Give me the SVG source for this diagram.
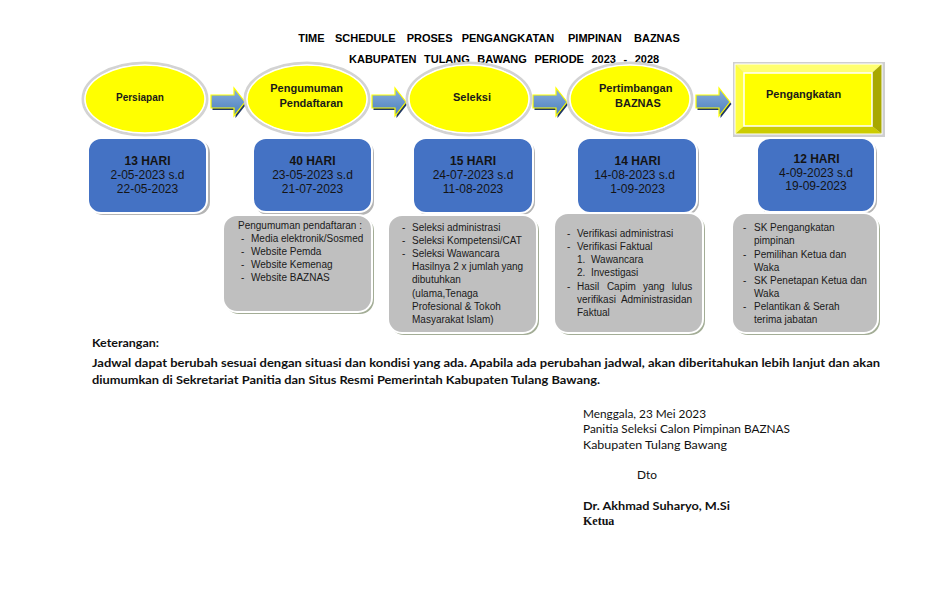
<svg xmlns="http://www.w3.org/2000/svg" width="936" height="612" viewBox="0 0 936 612">
<style>
  .title { font-family: "Liberation Sans", Arial, sans-serif; font-weight: bold; font-size: 11px; fill: #000; }
  .stage { font-family: "Liberation Sans", Arial, sans-serif; font-weight: bold; font-size: 11px; fill: #1a1a1a; }
  .dur { font-family: "Liberation Sans", Arial, sans-serif; font-size: 12px; fill: #141414; text-anchor: middle; }
  .durb { font-weight: bold; }
  .det { font-family: "Liberation Sans", Arial, sans-serif; font-size: 10px; fill: #1a1a1a; }
  .note { font-family: Lato, "Open Sans", sans-serif; font-size: 12px; fill: #111; }
  .noteb { font-weight: bold; }
  .ser { font-family: "Liberation Serif", "Times New Roman", serif; font-weight: bold; font-size: 12px; fill: #111; }
  .ellRing { fill: none; stroke: #d3d3d3; stroke-width: 3; }
  .ellFace { fill: #ffff00; stroke: #ffffff; stroke-width: 1.5; }
  .blueSh { fill: #b4b4b4; }
  .blue { fill: #4472c4; stroke: #ffffff; stroke-width: 2; }
  .greySh { fill: #a3ad96; }
  .grey { fill: #bfbfbf; stroke: #ffffff; stroke-width: 2; }
</style>
<defs>
  <linearGradient id="arrGrad" x1="0" y1="0" x2="0" y2="1">
    <stop offset="0" stop-color="#8ab0de"/>
    <stop offset="1" stop-color="#4a7ebb"/>
  </linearGradient>
  <polygon id="arrowShape" points="0,0 23,0 23,-7 34,7 23,21 23,13 0,13"/>
</defs>
<rect width="936" height="612" fill="#ffffff"/>

<g id="title">
  <text class="title" y="42"><tspan x="298.3">TIME</tspan><tspan x="335">SCHEDULE</tspan><tspan x="406.7">PROSES</tspan><tspan x="461.7">PENGANGKATAN</tspan><tspan x="568">PIMPINAN</tspan><tspan x="634">BAZNAS</tspan></text>
  <text class="title" x="349" y="63" word-spacing="4.5">KABUPATEN TULANG BAWANG PERIODE 2023 - 2028</text>
</g>

<g id="connectors">
  <g transform="translate(212.5,97)"><use href="#arrowShape" fill="#203864"/></g>
  <g transform="translate(211,95)"><use href="#arrowShape" fill="url(#arrGrad)" stroke="#ffff00" stroke-width="1.2"/></g>
  <g transform="translate(373.5,97)"><use href="#arrowShape" fill="#203864"/></g>
  <g transform="translate(372,95)"><use href="#arrowShape" fill="url(#arrGrad)" stroke="#ffff00" stroke-width="1.2"/></g>
  <g transform="translate(534.5,97)"><use href="#arrowShape" fill="#203864"/></g>
  <g transform="translate(533,95)"><use href="#arrowShape" fill="url(#arrGrad)" stroke="#ffff00" stroke-width="1.2"/></g>
  <g transform="translate(697.5,97)"><use href="#arrowShape" fill="#203864"/></g>
  <g transform="translate(696,95)"><use href="#arrowShape" fill="url(#arrGrad)" stroke="#ffff00" stroke-width="1.2"/></g>
</g>

<g id="stage-persiapan">
  <ellipse class="ellRing" cx="145" cy="99" rx="62" ry="36"/>
  <ellipse class="ellFace" cx="145" cy="99" rx="60" ry="34"/>
  <text class="stage" x="116" y="101" style="font-size:10px">Persiapan</text>
</g>
<g id="stage-pengumuman">
  <ellipse class="ellRing" cx="307" cy="99" rx="62" ry="36"/>
  <ellipse class="ellFace" cx="307" cy="99" rx="60" ry="34"/>
  <text class="stage" x="343" y="92" text-anchor="end">Pengumuman</text>
  <text class="stage" x="343" y="107" text-anchor="end">Pendaftaran</text>
</g>
<g id="stage-seleksi">
  <ellipse class="ellRing" cx="469" cy="99" rx="62" ry="36"/>
  <ellipse class="ellFace" cx="469" cy="99" rx="60" ry="34"/>
  <text class="stage" x="472" y="101" text-anchor="middle">Seleksi</text>
</g>
<g id="stage-pertimbangan">
  <ellipse class="ellRing" cx="630" cy="99" rx="62" ry="36"/>
  <ellipse class="ellFace" cx="630" cy="99" rx="60" ry="34"/>
  <text class="stage" x="599" y="92">Pertimbangan</text>
  <text class="stage" x="615" y="107">BAZNAS</text>
</g>
<g id="stage-pengangkatan">
  <rect x="733" y="62" width="152" height="75" fill="#cfcfcf"/>
  <polygon points="735,64 882,64 872,73 744,73" fill="#ffff70"/>
  <polygon points="882,64 882,134 872,126 872,73" fill="#a8a800"/>
  <polygon points="735,134 882,134 872,126 744,126" fill="#cccc00"/>
  <polygon points="735,64 735,134 744,126 744,73" fill="#ffff40"/>
  <rect x="744" y="73" width="128" height="53" fill="#ffff00" stroke="#ffffff" stroke-width="1.5"/>
  <rect x="735" y="64" width="147" height="70" fill="none" stroke="#ffffff" stroke-width="1"/>
  <text class="stage" x="766" y="98">Pengangkatan</text>
</g>

<g id="duration-1">
  <rect class="blueSh" x="90" y="140" width="120" height="75" rx="13"/>
  <rect class="blue" x="88" y="138" width="119" height="75" rx="13"/>
  <text class="dur durb" x="147.5" y="165">13 HARI</text>
  <text class="dur" x="147.5" y="179">2-05-2023 s.d</text>
  <text class="dur" x="147.5" y="193">22-05-2023</text>
</g>
<g id="duration-2">
  <rect class="blueSh" x="255" y="140" width="119" height="75" rx="13"/>
  <rect class="blue" x="253" y="138" width="119" height="74" rx="13"/>
  <text class="dur durb" x="312.5" y="165">40 HARI</text>
  <text class="dur" x="312.5" y="179">23-05-2023 s.d</text>
  <text class="dur" x="312.5" y="193">21-07-2023</text>
</g>
<g id="duration-3">
  <rect class="blueSh" x="415" y="140" width="120" height="75" rx="13"/>
  <rect class="blue" x="413" y="138" width="120" height="75" rx="13"/>
  <text class="dur durb" x="473" y="165">15 HARI</text>
  <text class="dur" x="473" y="179">24-07-2023 s.d</text>
  <text class="dur" x="473" y="193">11-08-2023</text>
</g>
<g id="duration-4">
  <rect class="blueSh" x="579" y="140" width="120" height="75" rx="13"/>
  <rect class="blue" x="577" y="138" width="120" height="75" rx="13"/>
  <text class="dur durb" x="637.5" y="165">14 HARI</text>
  <text class="dur" x="634.5" y="179">14-08-2023 s.d</text>
  <text class="dur" x="637.5" y="193">1-09-2023</text>
</g>
<g id="duration-5">
  <rect class="blueSh" x="759" y="140" width="118" height="74" rx="13"/>
  <rect class="blue" x="757" y="138" width="118" height="74" rx="13"/>
  <text class="dur durb" x="816.5" y="163">12 HARI</text>
  <text class="dur" x="816" y="177">4-09-2023 s.d</text>
  <text class="dur" x="816" y="190">19-09-2023</text>
</g>

<g id="detail-pengumuman">
  <rect class="greySh" x="225" y="217" width="149" height="97" rx="14"/>
  <rect class="grey" x="223" y="215" width="149" height="97" rx="14"/>
  <text class="det" x="238" y="229">Pengumuman pendaftaran :</text>
  <text class="det" x="241" y="242">-</text><text class="det" x="251" y="242">Media elektronik/Sosmed</text>
  <text class="det" x="241" y="255">-</text><text class="det" x="251" y="255">Website Pemda</text>
  <text class="det" x="241" y="268">-</text><text class="det" x="251" y="268">Website Kemenag</text>
  <text class="det" x="241" y="281">-</text><text class="det" x="251" y="281">Website BAZNAS</text>
</g>
<g id="detail-seleksi">
  <rect class="greySh" x="390" y="217" width="149" height="118" rx="14"/>
  <rect class="grey" x="388" y="215" width="149" height="118" rx="14"/>
  <text class="det" x="402" y="231">-</text><text class="det" x="412" y="231">Seleksi administrasi</text>
  <text class="det" x="402" y="244">-</text><text class="det" x="412" y="244">Seleksi Kompetensi/CAT</text>
  <text class="det" x="402" y="257">-</text><text class="det" x="412" y="257">Seleksi Wawancara</text>
  <text class="det" x="412" y="270">Hasilnya 2 x jumlah yang</text>
  <text class="det" x="412" y="283">dibutuhkan</text>
  <text class="det" x="412" y="297">(ulama,Tenaga</text>
  <text class="det" x="412" y="310">Profesional &amp; Tokoh</text>
  <text class="det" x="412" y="323">Masyarakat Islam)</text>
</g>
<g id="detail-pertimbangan">
  <rect class="greySh" x="556" y="215" width="149" height="120" rx="14"/>
  <rect class="grey" x="554" y="213" width="149" height="120" rx="14"/>
  <text class="det" x="567" y="237">-</text><text class="det" x="577" y="237">Verifikasi administrasi</text>
  <text class="det" x="567" y="250">-</text><text class="det" x="577" y="250">Verifikasi Faktual</text>
  <text class="det" x="577" y="263">1.</text><text class="det" x="591" y="263">Wawancara</text>
  <text class="det" x="577" y="276">2.</text><text class="det" x="591" y="276">Investigasi</text>
  <text class="det" x="567" y="290">-</text>
  <text class="det" y="290"><tspan x="577">Hasil</tspan><tspan x="606.9">Capim</tspan><tspan x="642.9">yang</tspan><tspan x="671.7">lulus</tspan></text>
  <text class="det" y="303"><tspan x="577">verifikasi</tspan><tspan x="620.9">Administrasidan</tspan></text>
  <text class="det" x="577" y="316">Faktual</text>
</g>
<g id="detail-pengangkatan">
  <rect class="greySh" x="734" y="215" width="146" height="120" rx="14"/>
  <rect class="grey" x="732" y="213" width="146" height="120" rx="14"/>
  <text class="det" x="743" y="231">-</text><text class="det" x="754" y="231">SK Pengangkatan</text>
  <text class="det" x="754" y="244">pimpinan</text>
  <text class="det" x="743" y="258">-</text><text class="det" x="754" y="258">Pemilihan Ketua dan</text>
  <text class="det" x="754" y="271">Waka</text>
  <text class="det" x="743" y="284">-</text><text class="det" x="754" y="284">SK Penetapan Ketua dan</text>
  <text class="det" x="754" y="297">Waka</text>
  <text class="det" x="743" y="310">-</text><text class="det" x="754" y="310">Pelantikan &amp; Serah</text>
  <text class="det" x="754" y="323">terima jabatan</text>
</g>

<g id="keterangan">
  <text class="note noteb" x="92" y="347" textLength="67" lengthAdjust="spacingAndGlyphs">Keterangan:</text>
  <text class="note noteb" x="92" y="367" textLength="788" lengthAdjust="spacingAndGlyphs">Jadwal dapat berubah sesuai dengan situasi dan kondisi yang ada. Apabila ada perubahan jadwal, akan diberitahukan lebih lanjut dan akan</text>
  <text class="note noteb" x="92" y="384" textLength="508" lengthAdjust="spacingAndGlyphs">diumumkan di Sekretariat Panitia dan Situs Resmi Pemerintah Kabupaten Tulang Bawang.</text>
</g>

<g id="signature">
  <text class="note" x="583" y="418" textLength="123" lengthAdjust="spacingAndGlyphs">Menggala, 23 Mei 2023</text>
  <text class="note" x="583" y="433" textLength="207" lengthAdjust="spacingAndGlyphs">Panitia Seleksi Calon Pimpinan BAZNAS</text>
  <text class="note" x="583" y="449" textLength="144" lengthAdjust="spacingAndGlyphs">Kabupaten Tulang Bawang</text>
  <text class="note" x="637" y="479" textLength="20" lengthAdjust="spacingAndGlyphs">Dto</text>
  <text class="note noteb" x="583" y="510" textLength="147" lengthAdjust="spacingAndGlyphs">Dr. Akhmad Suharyo, M.Si</text>
  <text class="ser" x="583" y="525">Ketua</text>
</g>
</svg>
